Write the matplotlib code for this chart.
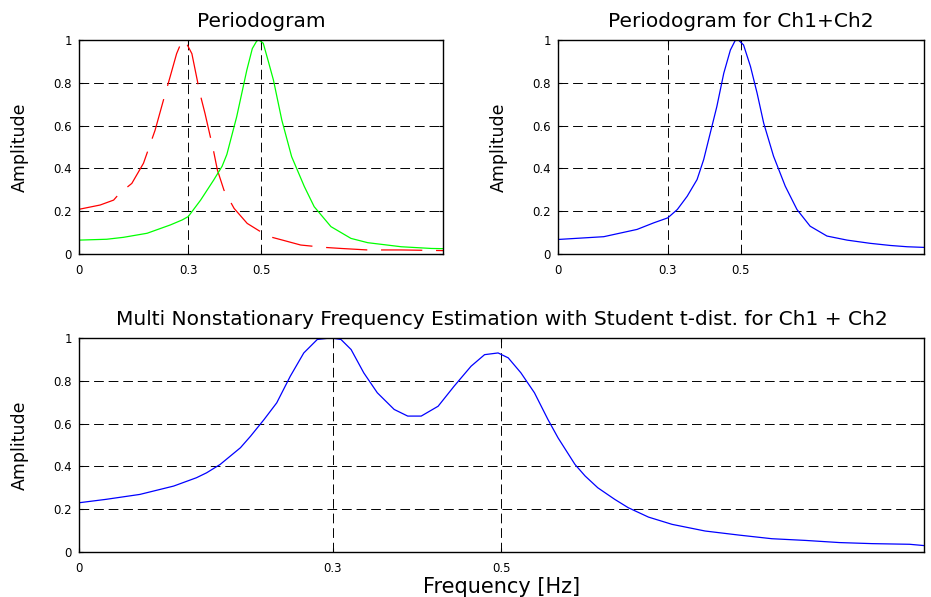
import matplotlib
matplotlib.use('Agg')
import matplotlib.pyplot as plt

plt.rcParams['font.family'] = ['DejaVu Sans']

# periodogram of channel 1 (red, dashed)
ch1_freq = [0, 0.058, 0.095, 0.111, 0.145, 0.177, 0.209, 0.232, 0.25, 0.268,
            0.28, 0.287, 0.295, 0.31, 0.332, 0.346, 0.369, 0.38, 0.398, 0.426,
            0.462, 0.499, 0.517, 0.559, 0.609, 0.674, 0.72, 0.793, 0.885, 1.0]
ch1_amp = [0.209, 0.229, 0.252, 0.283, 0.33, 0.424, 0.579, 0.72, 0.827, 0.936,
           0.985, 1.0, 0.985, 0.936, 0.751, 0.657, 0.486, 0.393, 0.299, 0.213,
           0.143, 0.104, 0.084, 0.065, 0.042, 0.031, 0.026, 0.019, 0.019, 0.016]

# periodogram of channel 2 (green)
ch2_freq = [0, 0.076, 0.122, 0.187, 0.251, 0.283, 0.3, 0.334, 0.37, 0.393,
            0.406, 0.433, 0.461, 0.476, 0.488, 0.494, 0.506, 0.52, 0.534, 0.557,
            0.584, 0.619, 0.646, 0.692, 0.747, 0.793, 0.885, 0.968, 1.0]
ch2_amp = [0.065, 0.069, 0.078, 0.097, 0.136, 0.159, 0.175, 0.252, 0.346, 0.41,
           0.465, 0.641, 0.86, 0.96, 0.995, 1.0, 0.985, 0.9, 0.813, 0.626,
           0.455, 0.315, 0.221, 0.128, 0.073, 0.053, 0.034, 0.026, 0.025]

# periodogram of the summed channels
sum_freq = [0, 0.125, 0.216, 0.262, 0.3, 0.326, 0.353, 0.38, 0.398, 0.416,
            0.434, 0.453, 0.471, 0.484, 0.493, 0.507, 0.526, 0.544, 0.562, 0.589,
            0.621, 0.653, 0.689, 0.735, 0.79, 0.853, 0.908, 0.954, 1.0]
sum_amp = [0.068, 0.081, 0.115, 0.146, 0.169, 0.208, 0.27, 0.348, 0.441, 0.565,
           0.689, 0.845, 0.953, 0.997, 1.0, 0.977, 0.876, 0.752, 0.612, 0.457,
           0.317, 0.208, 0.13, 0.084, 0.065, 0.05, 0.04, 0.034, 0.031]

# multi nonstationary estimate, student t
mnfe_freq = [0, 0.032, 0.072, 0.112, 0.139, 0.151, 0.167, 0.191, 0.203, 0.219,
             0.234, 0.25, 0.266, 0.282, 0.298, 0.31, 0.322, 0.337, 0.353, 0.373,
             0.389, 0.405, 0.425, 0.444, 0.464, 0.48, 0.496, 0.508, 0.523, 0.539,
             0.555, 0.567, 0.587, 0.599, 0.614, 0.634, 0.65, 0.674, 0.702, 0.741,
             0.781, 0.82, 0.86, 0.9, 0.939, 0.983, 1.0]
mnfe_amp = [0.23, 0.246, 0.269, 0.308, 0.347, 0.37, 0.409, 0.487, 0.541, 0.619,
            0.697, 0.821, 0.93, 0.993, 1.0, 0.993, 0.946, 0.837, 0.744, 0.666,
            0.635, 0.635, 0.681, 0.775, 0.868, 0.922, 0.93, 0.907, 0.837, 0.744,
            0.619, 0.533, 0.409, 0.355, 0.3, 0.246, 0.207, 0.163, 0.129, 0.098,
            0.079, 0.062, 0.054, 0.044, 0.039, 0.036, 0.03]

xticks = [0, 0.3, 0.5]
xticklabels = ['0', '0.3', '0.5']
yticks = [0, 0.2, 0.4, 0.6, 0.8, 1]
yticklabels = ['0', '0.2', '0.4', '0.6', '0.8', '1']


def style_axes(ax, title):
    ax.set_xlim(0, 1)
    ax.set_ylim(0, 1)
    ax.set_xticks(xticks)
    ax.set_xticklabels(xticklabels)
    ax.set_yticks(yticks)
    ax.set_yticklabels(yticklabels)
    ax.tick_params(direction='in', top=True, right=True, length=3, width=0.8,
                   labelsize=8.5, pad=5)
    ax.tick_params(axis='x', pad=7)
    ax.grid(True, color='k', linestyle=(0, (10, 5)), linewidth=0.7)
    for s in ax.spines.values():
        s.set_linewidth(1.0)
    ax.set_title(title, fontsize=14.5, pad=9)
    ax.set_ylabel('Amplitude', fontsize=12.5, labelpad=18)


fig = plt.figure(figsize=(9.31, 5.97), dpi=100)

ax1 = fig.add_axes([0.0849, 0.5745, 0.391, 0.3585])
ax1.plot(ch1_freq, ch1_amp, color='#ff0000', linewidth=0.9, linestyle=(0, (33, 11)))
ax1.plot(ch2_freq, ch2_amp, color='#00ff00', linewidth=0.9)
style_axes(ax1, 'Periodogram')

ax2 = fig.add_axes([0.5994, 0.5745, 0.393, 0.3585])
ax2.plot(sum_freq, sum_amp, color='#0000ff', linewidth=0.9)
style_axes(ax2, 'Periodogram for Ch1+Ch2')

ax3 = fig.add_axes([0.0849, 0.0754, 0.9075, 0.3585])
ax3.plot(mnfe_freq, mnfe_amp, color='#0000ff', linewidth=0.9)
style_axes(ax3, 'Multi Nonstationary Frequency Estimation with Student t-dist. for Ch1 + Ch2')
ax3.set_xlabel('Frequency [Hz]', fontsize=15, labelpad=2)

fig.savefig('out.png', dpi=100)
